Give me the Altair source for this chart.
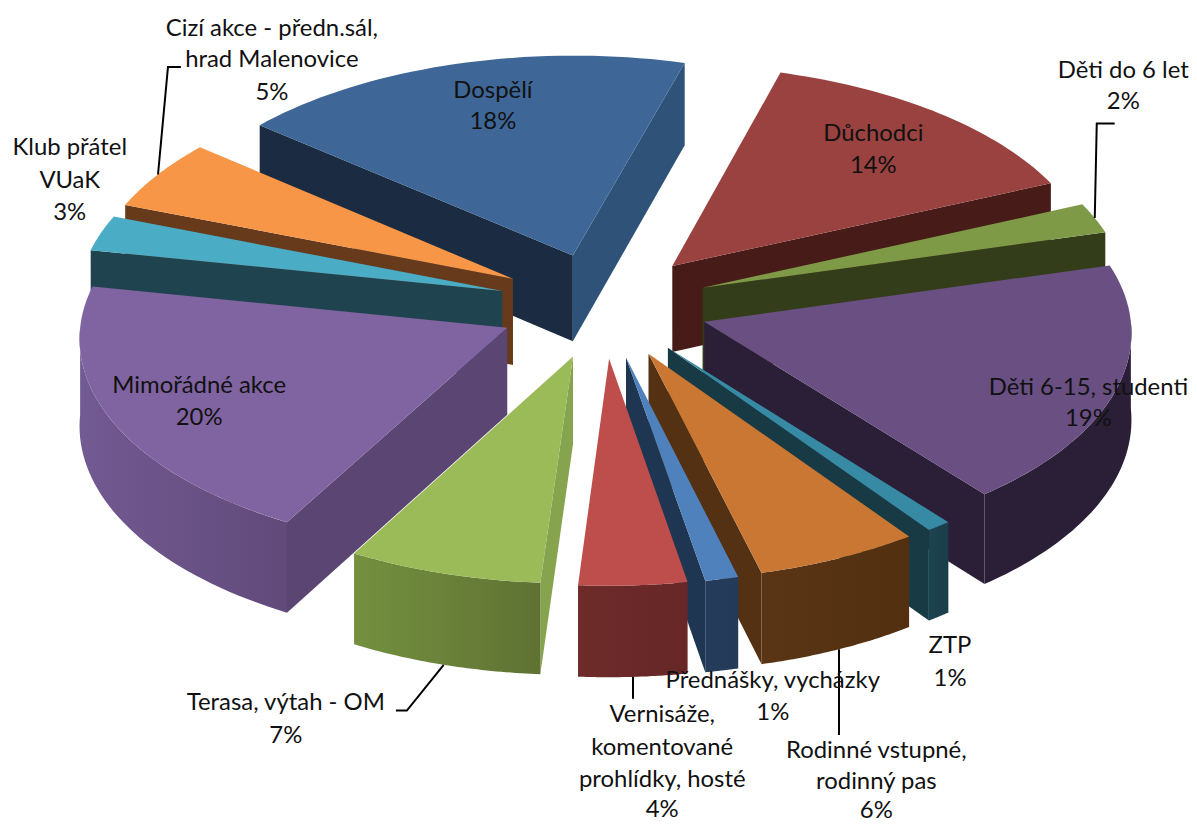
import math
import altair as alt
import pandas as pd

# --- data (clockwise, starting with "Dospělí") ---
NAMES = ["Dospělí", "Důchodci", "Děti do 6 let", "Děti 6-15, studenti", "ZTP",
         "Rodinné vstupné, rodinný pas", "Přednášky, vycházky",
         "Vernisáže, komentované prohlídky, hosté", "Terasa, výtah - OM",
         "Mimořádné akce", "Klub přátel VUaK", "Cizí akce - předn.sál, hrad Malenovice"]
# shares (they round to the printed percentages)
VALUES = [18.3, 14.0, 2.3, 18.5, 0.9, 5.9, 1.2, 3.9, 7.0, 20.0, 2.7, 5.3]

# --- colours per slice: top, cut face (start edge), cut face (end edge), rim left, rim right ---
TOP = ["#3E6797", "#994240", "#7E9A47", "#694F82", "#368AA3", "#C97733",
       "#4F81BD", "#BD4E4C", "#9BBB59", "#8064A2", "#4BACC6", "#F79646"]
START_FACE = ["#1A2B42", "#471B18", "#343D1A", "#2A1F37", "#183A44", "#553113",
              "#1F3652", "#6C2928", "#86A34D", "#5B4572", "#1F444F", "#663A1B"]
END_FACE = ["#2F5279", "#471B18", "#343D1A", "#2A1F37", "#183A44", "#553113",
            "#1F3652", "#6C2928", "#86A34D", "#5B4572", "#1F444F", "#663A1B"]
RIM_L = ["#2F5279", "#471B18", "#343D1A", "#2A1F37", "#1C4450", "#5A3515",
         "#253D5C", "#6E2B2A", "#74903F", "#725A92", "#1F444F", "#663A1B"]
RIM_R = ["#2F5279", "#471B18", "#343D1A", "#2A1F37", "#1A3E49", "#52300F",
         "#233A58", "#662726", "#5F7233", "#614A7A", "#1F444F", "#663A1B"]
DRAW_ORDER = [0, 1, 2, 11, 10, 9, 3, 4, 5, 6, 7, 8]

# --- label text, one row per line, with its placement on the page ---
LABEL_LINES = [
    ("Dospělí", 495, 90), ("18%", 495, 121),
    ("Důchodci", 877, 133), ("14%", 877, 165),
    ("Děti do 6 let", 1128, 70), ("2%", 1128, 101),
    ("Děti 6-15, studenti", 1093, 388), ("19%", 1093, 419),
    ("ZTP", 954, 647), ("1%", 954, 680),
    ("Rodinné vstupné,", 880, 752), ("rodinný pas", 880, 784), ("6%", 880, 813),
    ("Přednášky, vycházky", 776, 682), ("1%", 776, 714),
    ("Vernisáže,", 665, 716), ("komentované", 665, 749), ("prohlídky, hosté", 665, 782), ("4%", 665, 812),
    ("Terasa, výtah - OM", 287, 704), ("7%", 287, 737),
    ("Mimořádné akce", 200, 386), ("20%", 200, 418),
    ("Klub přátel", 70, 147), ("VUaK", 70, 180), ("3%", 70, 212),
    ("Cizí akce - předn.sál,", 273, 27), ("hrad Malenovice", 273, 59), ("5%", 273, 92),
]
# leader lines: slice index, height on the side (0 top, 1 bottom), bends relative to the rim
LEADERS = [
    (2, 0, [(2, -95), (20, -95)]),
    (5, 1, [(0, 86)]),
    (7, 1, [(0, 22)]),
    (8, 1, [(-37, 46), (-48, 46)]),
    (11, 0, [(10, -108), (23, -108)]),
]

# --- pie geometry ---
CX, CY, K, D = 606.0, 305.0, 0.50, 10000.0
RADIUS, EXPLODE, DEPTH = 427.0, 106.0, 87.0
START_ANGLE = -50.0
W, H = 1181, 809


def proj(u, v, z=0.0):
    s = 1.0 / (1.0 - v / D)
    return CX + u * s, CY + (K * v + z) * s


def apex(mid):
    b = math.radians(mid)
    return EXPLODE * math.sin(b), -EXPLODE * math.cos(b)


def outer(a0, ang):
    t = math.radians(ang)
    return a0[0] + RADIUS * math.sin(t), a0[1] - RADIUS * math.cos(t)


def arc_angles(a, b, n=40):
    return [a + (b - a) * i / n for i in range(n + 1)]


XS = alt.Scale(domain=[8, 8 + W], nice=False, zero=False)
YS = alt.Scale(domain=[8 + H, 8], nice=False, zero=False)


def polygon(points, fill):
    rows = [{"x": x, "y": y, "i": i} for i, (x, y) in enumerate(points + points[:1])]
    return (alt.Chart(pd.DataFrame(rows))
            .mark_line(fill=fill, strokeWidth=0, interpolate="linear")
            .encode(x=alt.X("x:Q", scale=XS, axis=None),
                    y=alt.Y("y:Q", scale=YS, axis=None),
                    order=alt.Order("i:Q")))


def gradient(c1, c2):
    if c1 == c2:
        return c1
    return alt.LinearGradient(gradient="linear", x1=0, x2=1, y1=0, y2=0,
                              stops=[alt.GradientStop(color=c1, offset=0),
                                     alt.GradientStop(color=c2, offset=1)])


total = sum(VALUES)
bounds = []
cur = START_ANGLE
for val in VALUES:
    bounds.append((cur, cur + 360.0 * val / total))
    cur += 360.0 * val / total

layers = []
for idx in DRAW_ORDER:
    a1, a2 = bounds[idx]
    mid = (a1 + a2) / 2
    a0 = apex(mid)
    n1, n2 = a1 % 360, a2 % 360
    # start cut face: visible on the left half of the pie
    if n1 > 180:
        o = outer(a0, a1)
        layers.append(polygon([proj(*a0), proj(*o), proj(*o, DEPTH), proj(*a0, DEPTH)], START_FACE[idx]))
    # end cut face: visible on the right half of the pie
    if 0 < n2 < 180:
        o = outer(a0, a2)
        layers.append(polygon([proj(*a0), proj(*o), proj(*o, DEPTH), proj(*a0, DEPTH)], END_FACE[idx]))
    # outer rim: only the part that faces the viewer
    r1, r2 = max(a1, 90.0), min(a2, 270.0)
    if r2 > r1:
        angs = arc_angles(r1, r2)
        upper = [proj(*outer(a0, t)) for t in angs]
        lower = [proj(*outer(a0, t), DEPTH) for t in reversed(angs)]
        layers.append(polygon(upper + lower, gradient(RIM_L[idx], RIM_R[idx])))
    # top face
    top = [proj(*a0)] + [proj(*outer(a0, t)) for t in arc_angles(a1, a2)]
    layers.append(polygon(top, TOP[idx]))

# leader lines
for idx, level, bends in LEADERS:
    a1, a2 = bounds[idx]
    mid = (a1 + a2) / 2
    x0, y0 = proj(*outer(apex(mid), mid), DEPTH if level else 0.0)
    pts = [(x0, y0)] + [(x0 + dx, y0 + dy) for dx, dy in bends]
    df = pd.DataFrame([{"x": x, "y": y, "i": i} for i, (x, y) in enumerate(pts)])
    layers.append(alt.Chart(df).mark_line(color="#000000", strokeWidth=2)
                  .encode(x=alt.X("x:Q", scale=XS, axis=None),
                          y=alt.Y("y:Q", scale=YS, axis=None),
                          order=alt.Order("i:Q")))

label_df = pd.DataFrame(LABEL_LINES, columns=["text", "x", "y"])
layers.append(alt.Chart(label_df)
              .mark_text(font="Lato", fontSize=24, color="#111111", align="center", baseline="middle")
              .encode(x=alt.X("x:Q", scale=XS, axis=None),
                      y=alt.Y("y:Q", scale=YS, axis=None),
                      text="text:N"))

chart = (alt.layer(*layers)
         .properties(width=W, height=H, padding=0, background="#ffffff")
         .configure_view(strokeWidth=0, stroke="transparent"))
chart.save("out.html", embed_options={"renderer": "svg", "actions": False})
